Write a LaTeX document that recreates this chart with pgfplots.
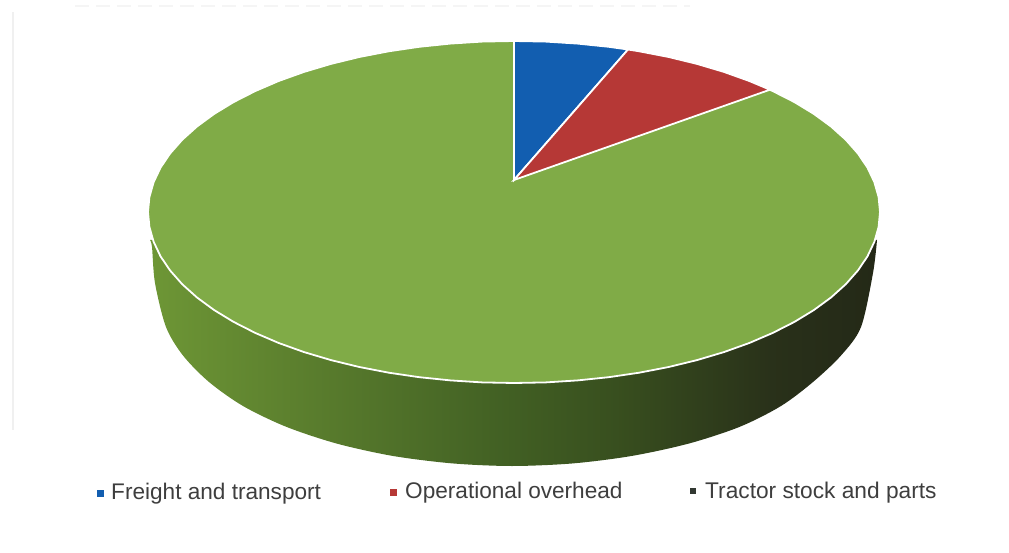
\documentclass[border=0pt]{standalone}
\usepackage{fontspec}
\setmainfont{Liberation Sans}
\usepackage{pgfplots}
\pgfplotsset{compat=1.18}

\definecolor{topgreen}{RGB}{128,171,71}
\definecolor{pieblue}{RGB}{18,94,176}
\definecolor{piered}{RGB}{182,56,54}
\definecolor{darkmark}{RGB}{50,56,50}
\definecolor{legtext}{RGB}{62,62,62}

% side wall of the pie, light on the left and nearly black on the right
\pgfdeclarehorizontalshading{sidewall}{100bp}{
  rgb(0bp)=(.43,.59,.21);
  rgb(25bp)=(.43,.59,.21);
  rgb(35bp)=(.36,.50,.18);
  rgb(49bp)=(.26,.38,.14);
  rgb(57bp)=(.22,.31,.12);
  rgb(68bp)=(.16,.19,.10);
  rgb(75bp)=(.14,.16,.09);
  rgb(100bp)=(.14,.16,.09)}

\begin{document}
\begin{tikzpicture}
  \begin{axis}[
      scale only axis,
      width=1009pt, height=553pt,
      xmin=0, xmax=1009, ymin=0, ymax=553,
      y dir=reverse,
      hide axis,
      clip=false,
    ]

    % hide axis leaves the box out of the picture size
    \path (axis cs:0,0) rectangle (axis cs:1009,553);

    % scan marks
    \addplot[draw=black!6, line width=1.5pt] coordinates {(13,12) (13,430)};
    \addplot[draw=black!4, line width=2pt, dash pattern=on 14pt off 7pt] coordinates {(75,6) (690,6)};

    % side wall
    \addplot[draw=none, shading=sidewall, smooth, tension=0.5] coordinates {
        (150,240) (152,247) (155,283) (166,327) (183,355.5) (209,382)
        (243,406) (286,426.7) (336.5,443.5) (392.6,455.9) (452.4,463.4)
        (512,466) (573,463.4) (632,455.9) (689,443.5) (740,426.7)
        (781,406) (813,382) (841,355.5) (861,327) (873,273) (877,240)
      } -- cycle;

    % top face, tractor stock and parts
    \addplot[fill=topgreen, draw=white, line width=1.8pt] coordinates {
        (880,212) (878.6,197.1) (874.4,182.3) (867.5,167.7) (857.9,153.5)
        (845.7,139.7) (831,126.5) (813.8,113.9) (794.4,102.1) (772.8,91.1)
        (749.3,81) (723.9,71.9) (697,63.9) (668.7,57) (639.2,51.3)
        (608.7,46.8) (577.6,43.6) (545.9,41.6) (514,41)
        (482.1,41.6) (450.4,43.6) (419.3,46.8) (388.8,51.3) (359.3,57)
        (331,63.9) (304.1,71.9) (278.7,81) (255.2,91.1) (233.6,102.1)
        (214.2,113.9) (197,126.5) (182.3,139.7) (170.1,153.5) (160.5,167.7)
        (153.6,182.3) (149.4,197.1) (148,212)
        (149.4,226.9) (153.6,241.7) (160.5,256.3) (170.1,270.5) (182.3,284.3)
        (197,297.5) (214.2,310.1) (233.6,321.9) (255.2,332.9) (278.7,343)
        (304.1,352.1) (331,360.1) (359.3,367) (388.8,372.7) (419.3,377.2)
        (450.4,380.4) (482.1,382.4) (514,383)
        (545.9,382.4) (577.6,380.4) (608.7,377.2) (639.2,372.7) (668.7,367)
        (697,360.1) (723.9,352.1) (749.3,343) (772.8,332.9) (794.4,321.9)
        (813.8,310.1) (831,297.5) (845.7,284.3) (857.9,270.5) (867.5,256.3)
        (874.4,241.7) (878.6,226.9)
      } -- cycle;

    % freight and transport
    \addplot[fill=pieblue, draw=white, line width=1.8pt] coordinates {
        (514,180) (514,41) (545.9,41.6) (577.6,43.6) (608.7,46.8) (628,49.5)
      } -- cycle;

    % operational overhead
    \addplot[fill=piered, draw=white, line width=1.8pt] coordinates {
        (514,180) (628,49.5) (639.2,51.3) (668.7,57) (697,63.9) (723.9,71.9)
        (749.3,81) (770,89.7)
      } -- cycle;

    % legend
    \addplot[only marks, mark=square*, mark size=3pt, color=pieblue] coordinates {(100,493)};
    \addplot[only marks, mark=square*, mark size=3pt, color=piered] coordinates {(393,492)};
    \addplot[only marks, mark=square*, mark size=2.6pt, color=darkmark] coordinates {(693,491)};

    \node[anchor=base west, inner sep=0pt, text=legtext, font=\fontsize{22.6}{26}\selectfont] at (axis cs:111,499) {Freight and transport};
    \node[anchor=base west, inner sep=0pt, text=legtext, font=\fontsize{22.6}{26}\selectfont] at (axis cs:405,498.5) {Operational overhead};
    \node[anchor=base west, inner sep=0pt, text=legtext, font=\fontsize{22.7}{26}\selectfont] at (axis cs:705,498) {Tractor stock and parts};
  \end{axis}
\end{tikzpicture}
\end{document}
